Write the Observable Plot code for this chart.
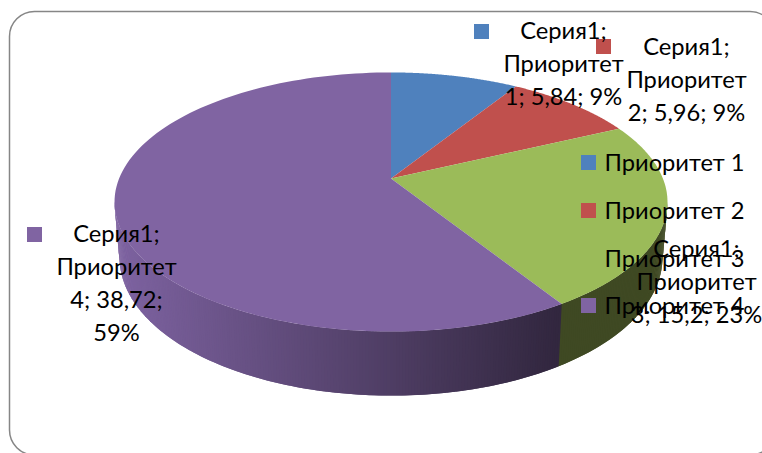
<!DOCTYPE html>
<html><head><meta charset="utf-8">
<style>html,body{margin:0;padding:0;background:#fff;overflow:hidden}svg{display:block}</style>
<script src="https://cdn.jsdelivr.net/npm/d3@7"></script>
<script src="https://cdn.jsdelivr.net/npm/@observablehq/plot@0.6"></script>
</head><body><div id="chart"></div>
<script>
const categories = ["Приоритет 1", "Приоритет 2", "Приоритет 3", "Приоритет 4"];
const values = [5.84, 5.96, 15.2, 38.72];
const colors = ["#4F81BD", "#C0504D", "#9BBB59", "#8064A2"];
const dataLabels = [
  "Серия1;\nПриоритет\n1; 5,84; 9%",
  "Серия1;\nПриоритет\n2; 5,96; 9%",
  "Серия1;\nПриоритет\n3; 15,2; 23%",
  "Серия1;\nПриоритет\n4; 38,72;\n59%"
];
// layout of the picture
const labelAt = [[563, 15], [686, 31], [696, 233], [116, 218]];
const labelKeyAt = [[474, 24], [596, 39], [600, 242], [27, 227]];
const legendAt = [[581, 155], [581, 203], [581, 251], [581, 298]];
const W = 762, H = 453, FONT = "Lato, Carlito, 'Open Sans', sans-serif", FS = 23.7, KEY = 15;
// perspective disc
const CX = 390.5, CY = 178, A = 271.9, B = 125.3, K = 0.1815, SHRINK = 0.982;
const project = (t, low = false) => {
  const d = 1 + K * Math.cos(t);
  let x = A * Math.sin(t) / d, y = -B * Math.cos(t) / d;
  if (low) { x *= SHRINK; y += 53 - 11 * Math.cos(t); }
  return {x: CX + x, y: CY + y};
};
const total = d3.sum(values);
const cum = d3.cumsum(values);
const range = (a, b, n) => d3.range(n + 1).map(i => a + (b - a) * i / n);
const slices = values.flatMap((v, i) => {
  const t1 = 2 * Math.PI * (cum[i] - v) / total, t2 = 2 * Math.PI * cum[i] / total;
  const arc = range(t1, t2, 120).map(t => ({...project(t), c: categories[i]}));
  return [{x: CX, y: CY, c: categories[i]}, ...arc];
});
// visible wall: overlapping strips painted from the right extreme to the left extreme
const tFrom = Math.acos(-K), tTo = 2 * Math.PI - Math.acos(-K);
const seam = 2 * Math.PI * cum[2] / total;
const purpleShade = d3.scaleLinear().domain([118, 556]).range(["#7d62a0", "#32273f"]).clamp(true);
const wallColor = t => t < seam ? "#3f4923" : purpleShade(project(t).x);
const steps = 300, dt = (tTo - tFrom) / steps;
const cuts = [...range(tFrom, seam, Math.ceil((seam - tFrom) / dt)).slice(0, -1), ...range(seam, tTo, Math.ceil((tTo - seam) / dt))];
const wall = d3.pairs(cuts).flatMap(([a, b], i) => {
  const end = Math.min(b + dt, tTo), col = wallColor((a + b) / 2);
  return [project(a), project(end), project(end, true), project(a, true)].map(p => ({...p, i, col}));
});
const frame = [{x1: 9.5, x2: 775, y1: 11.5, y2: 455}];
const keys = [
  ...labelKeyAt.map((p, i) => ({x: p[0], y: p[1], c: categories[i]})),
  ...legendAt.map((p, i) => ({x: p[0], y: p[1], c: categories[i]}))
];
const labels = dataLabels.map((t, i) => ({t, x: labelAt[i][0], y: labelAt[i][1]}));
const legend = categories.map((t, i) => ({t, x: legendAt[i][0] + 23, y: legendAt[i][1] + 8}));

const plot = Plot.plot({
  width: W, height: H, margin: 0,
  x: {domain: [0, W], range: [0, W], axis: null},
  y: {domain: [0, H], range: [0, H], axis: null},
  color: {domain: categories, range: colors},
  style: {background: "#fff", fontFamily: FONT},
  marks: [
    Plot.rect(frame, {x1: "x1", x2: "x2", y1: "y1", y2: "y2", fill: "#fff", stroke: "#868686", strokeWidth: 1.5, rx: 25}),
    Plot.line(wall, {x: "x", y: "y", z: "i", fill: d => d.col, stroke: "none", curve: "linear-closed"}),
    Plot.line(slices, {x: "x", y: "y", z: "c", fill: "c", curve: "linear-closed"}),
    Plot.rect(keys, {x1: "x", x2: d => d.x + KEY, y1: "y", y2: d => d.y + KEY, fill: "c"}),
    Plot.text(labels, {x: "x", y: "y", text: "t", textAnchor: "middle", lineAnchor: "top", lineHeight: 1.39, fontSize: FS, fill: "#000"}),
    Plot.text(legend, {x: "x", y: "y", text: "t", textAnchor: "start", lineAnchor: "middle", fontSize: FS, fill: "#000"})
  ]
});
document.getElementById("chart").append(plot);
</script></body></html>
